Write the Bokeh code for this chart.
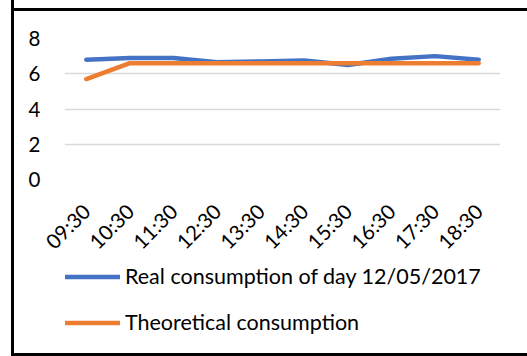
from math import pi
from bokeh.plotting import figure
from bokeh.layouts import column
from bokeh.models import Legend, LegendItem, FactorRange, FixedTicker, Range1d
from bokeh.embed import file_html
from bokeh.resources import INLINE

times = ["09:30", "10:30", "11:30", "12:30", "13:30", "14:30", "15:30", "16:30", "17:30", "18:30"]
real = [6.8, 6.9, 6.9, 6.65, 6.7, 6.75, 6.5, 6.85, 7.0, 6.8]
theoretical = [5.7, 6.6, 6.6, 6.6, 6.6, 6.6, 6.6, 6.6, 6.6, 6.6]
y_ticks = [0, 2, 4, 6, 8]
series_labels = ["Real consumption of day 12/05/2017", "Theoretical consumption"]
colors = ["#4472C4", "#ED7D31"]

FONT = "Lato"
W = 527
H1, H2 = 264, 92
LEFT_EDGE = "inset 11px 0 0 0 white, inset 14px 0 0 0 black"

# ---- chart ----
p = figure(x_range=FactorRange(*times), y_range=Range1d(0, 8), width=W, height=H1,
           output_backend="svg", toolbar_location=None,
           min_border_left=64, min_border_right=27, min_border_top=38, min_border_bottom=80)
p.styles = {"outline": "none",
            "box-shadow": LEFT_EDGE + ", inset 0 8px 0 0 white, inset 0 11px 0 0 black"}
p.border_fill_color = None
p.background_fill_color = None
p.outline_line_color = None
p.xgrid.grid_line_color = None
p.ygrid.grid_line_color = "#D9D9D9"
p.ygrid.grid_line_width = 1.5
p.yaxis.ticker = FixedTicker(ticks=y_ticks)

for ax in (p.xaxis[0], p.yaxis[0]):
    ax.axis_line_color = None
    ax.major_tick_line_color = None
    ax.minor_tick_line_color = None
    ax.major_label_text_font = FONT
    ax.major_label_text_font_size = "20.5px"
    ax.major_label_text_color = "black"
p.yaxis.major_label_standoff = 18
p.xaxis.major_label_standoff = 22
p.xaxis.major_label_orientation = pi / 4

p.line(times, real, line_color=colors[0], line_width=4.5, line_cap="round", line_join="round")
p.line(times, theoretical, line_color=colors[1], line_width=4.5, line_cap="round", line_join="round")

# ---- legend strip (series drawn outside its visible range; only legend keys show) ----
q = figure(x_range=FactorRange(*times), y_range=Range1d(100, 101), width=W, height=H2,
           output_backend="svg", toolbar_location=None, x_axis_type=None, y_axis_type=None,
           min_border_left=0, min_border_right=0, min_border_top=0, min_border_bottom=0)
q.styles = {"outline": "none", "box-shadow": LEFT_EDGE + ", inset 0 -3px 0 0 black"}
q.border_fill_color = None
q.background_fill_color = None
q.outline_line_color = None
k1 = q.line(times, real, line_color=colors[0], line_width=4.5, line_cap="round")
k2 = q.line(times, theoretical, line_color=colors[1], line_width=4.5, line_cap="round")

legend = Legend(items=[LegendItem(label=series_labels[0], renderers=[k1]),
                       LegendItem(label=series_labels[1], renderers=[k2])],
                location=(1, 21), orientation="vertical",
                label_text_font=FONT, label_text_font_size="21.5px", label_text_color="black",
                glyph_width=55, glyph_height=25, label_height=25, spacing=20,
                label_standoff=5, padding=0, margin=0,
                border_line_color=None, background_fill_alpha=0)
q.add_layout(legend, "center")

layout = column(p, q, spacing=0, styles={"outline": "none"})
open("out.html", "w").write(file_html(layout, INLINE))
